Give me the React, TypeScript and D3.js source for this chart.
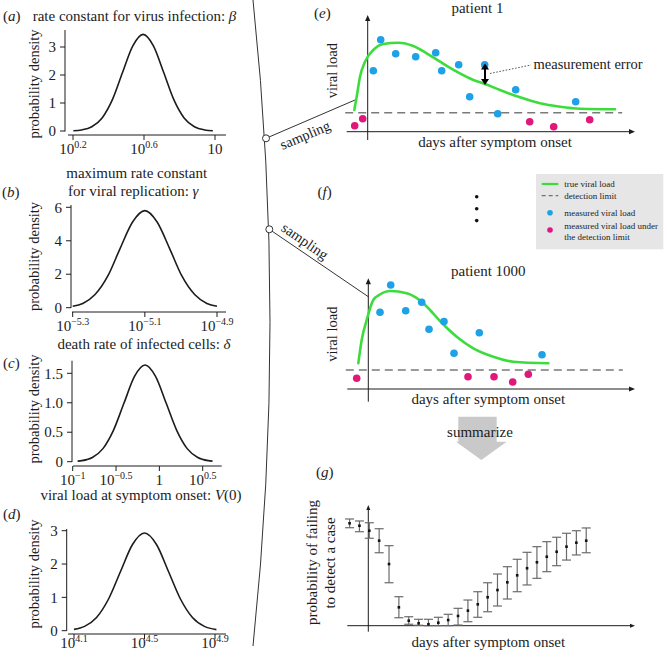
import React from "react";
import * as d3 from "d3";

const SERIF = "'Liberation Serif', 'Times New Roman', Times, serif";
const INK = "#1c1c1c";
const GREEN = "#3ddc3d";
const BLUE = "#1ea1e6";
const MAGENTA = "#e0187c";
const GREY_DASH = "#7a7a7a";

// ---------- (a) beta: density over log10(beta)
const betaLog10 = [0.202, 0.248, 0.306, 0.364, 0.422, 0.479, 0.537, 0.595, 0.653, 0.711, 0.768, 0.826, 0.884, 0.942, 0.988];
const betaDensity = [0.011, 0.038, 0.151, 0.467, 1.12, 2.09, 3.04, 3.45, 3.04, 2.09, 1.12, 0.467, 0.151, 0.038, 0.011];
// ---------- (b) gamma
const gammaLog10 = [-5.3, -5.272, -5.238, -5.203, -5.169, -5.134, -5.1, -5.066, -5.031, -4.997, -4.962, -4.928, -4.9];
const gammaDensity = [0.086, 0.255, 0.785, 1.88, 3.52, 5.12, 5.8, 5.12, 3.52, 1.88, 0.785, 0.255, 0.086];
// ---------- (c) delta
const deltaLog10 = [-0.943, -0.894, -0.773, -0.651, -0.53, -0.408, -0.287, -0.165, -0.044, 0.078, 0.2, 0.321, 0.443, 0.564, 0.613];
const deltaDensity = [0.01, 0.018, 0.072, 0.222, 0.532, 0.995, 1.447, 1.64, 1.447, 0.995, 0.532, 0.222, 0.072, 0.018, 0.01];
// ---------- (d) V(0)
const v0Log10 = [4.1, 4.16, 4.228, 4.296, 4.364, 4.432, 4.5, 4.568, 4.636, 4.704, 4.772, 4.84, 4.908];
const v0Density = [0.039, 0.129, 0.396, 0.951, 1.777, 2.586, 2.93, 2.586, 1.777, 0.951, 0.396, 0.129, 0.033];

type TickLabel = { value: number; base: string; exp: string };
const betaXTicks: TickLabel[] = [
  { value: 0.2, base: "10", exp: "0.2" },
  { value: 0.6, base: "10", exp: "0.6" },
  { value: 1, base: "10", exp: "" },
];
const gammaXTicks: TickLabel[] = [
  { value: -5.3, base: "10", exp: "−5.3" },
  { value: -5.1, base: "10", exp: "−5.1" },
  { value: -4.9, base: "10", exp: "−4.9" },
];
const deltaXTicks: TickLabel[] = [
  { value: -1, base: "10", exp: "−1" },
  { value: -0.5, base: "10", exp: "−0.5" },
  { value: 0, base: "1", exp: "" },
  { value: 0.5, base: "10", exp: "0.5" },
];
const v0XTicks: TickLabel[] = [
  { value: 4.1, base: "10", exp: "4.1" },
  { value: 4.5, base: "10", exp: "4.5" },
  { value: 4.9, base: "10", exp: "4.9" },
];
const betaYTicks = [0, 1, 2, 3];
const gammaYTicks = [0, 2, 4, 6];
const deltaYTicks = [0, 0.5, 1, 1.5];
const deltaYLabels = ["0", "0.5", "1.0", "1.5"];
const v0YTicks = [0, 1, 2, 3];

// ---------- (e) patient 1 (days after onset, viral load in arbitrary log units)
const p1TrueDays = [-1.34, -1.1, -0.77, -0.27, 0.56, 1.56, 3.06, 4.56, 5.9, 7.23, 8.9, 10.56, 11.73, 13.23, 15.23, 17.23, 19.23, 21.23, 24.73];
const p1TrueLoad = [2.17, 3.5, 5.5, 7.0, 8.17, 8.77, 8.9, 8.57, 7.84, 7.0, 6.0, 5.17, 4.77, 4.17, 3.44, 2.84, 2.5, 2.3, 2.24];
const p1MeasDays = [0.56, 1.3, 2.8, 4.8, 6.8, 7.4, 9.1, 10.2, 11.7, 13.0, 14.8, 20.8];
const p1MeasLoad = [6.1, 9.2, 7.8, 7.5, 7.9, 6.1, 6.7, 3.5, 6.7, 1.8, 4.2, 3.0];
const p1BelowDays = [-1.3, -0.5, 16.2, 18.6, 22.2];
const p1BelowLoad = [0.6, 1.3, 1.0, 0.5, 1.2];
// ---------- (f) patient 1000
const p1000TrueDays = [-1.0, -0.66, -0.16, 0.5, 1.17, 2.17, 3.84, 5.5, 6.17, 7.17, 8.84, 10.5, 12.5, 14.5, 18.0];
const p1000TrueLoad = [2.57, 4.9, 6.9, 8.9, 9.45, 9.8, 9.57, 8.57, 7.9, 6.8, 5.23, 4.07, 3.23, 2.73, 2.57];
const p1000MeasDays = [1.17, 2.24, 3.74, 5.34, 6.07, 7.57, 8.57, 11.1, 17.37];
const p1000MeasLoad = [7.67, 10.4, 7.83, 8.67, 5.97, 6.75, 3.57, 5.63, 3.43];
const p1000BelowDays = [-1.16, 9.97, 12.57, 14.44, 16.0];
const p1000BelowLoad = [1.07, 1.23, 1.23, 0.7, 1.47];
const detectionLimit = 1.9;
const detectionSpan = [-2.25, 25.45];

// ---------- (g) probability of failing to detect
const gDays = [-2, -1, 0, 1, 2, 3, 4, 5, 6, 7, 8, 9, 10, 11, 12, 13, 14, 15, 16, 17, 18, 19, 20, 21, 22];
const gProb = [0.925, 0.903, 0.858, 0.768, 0.557, 0.166, 0.045, 0.022, 0.013, 0.027, 0.051, 0.088, 0.136, 0.193, 0.257, 0.322, 0.392, 0.455, 0.519, 0.573, 0.623, 0.668, 0.714, 0.75, 0.768];
const gLower = [0.885, 0.849, 0.79, 0.659, 0.388, 0.072, 0.013, 0.004, 0.0, 0.0, 0.0, 0.006, 0.036, 0.076, 0.126, 0.178, 0.241, 0.307, 0.368, 0.428, 0.488, 0.542, 0.593, 0.639, 0.659];
const gUpper = [0.964, 0.946, 0.93, 0.876, 0.723, 0.262, 0.081, 0.058, 0.058, 0.076, 0.103, 0.157, 0.232, 0.307, 0.388, 0.467, 0.533, 0.6, 0.663, 0.714, 0.759, 0.799, 0.835, 0.858, 0.883];

type DLayout = {
  yAxisX: number; yAxisTop: number; yAxisBottom: number;
  xAxisY: number; xAxisLeft: number; xAxisRight: number;
  xDomain: [number, number]; xRange: [number, number];
  yDomain: [number, number]; yRange: [number, number];
  labelCy: number; tickLabelY: number;
};

function DensityPanel(props: { xs: number[]; ys: number[]; xTicks: TickLabel[]; yTicks: number[]; yLabels?: string[]; L: DLayout }) {
  const { xs, ys, xTicks, yTicks, yLabels, L } = props;
  const sx = d3.scaleLinear().domain(L.xDomain).range(L.xRange);
  const sy = d3.scaleLinear().domain(L.yDomain).range(L.yRange);
  const line = d3
    .line<number>()
    .x((v) => sx(v))
    .y((_, i) => sy(ys[i]))
    .curve(d3.curveMonotoneX);
  return (
    <g>
      <path d={line(xs) || ""} fill="none" stroke={INK} strokeWidth={1.6} />
      <line x1={L.yAxisX} x2={L.yAxisX} y1={L.yAxisTop} y2={L.yAxisBottom} stroke={INK} strokeWidth={1} />
      {yTicks.map((t, i) => (
        <g key={"y" + t}>
          <line x1={L.yAxisX - 5} x2={L.yAxisX} y1={sy(t)} y2={sy(t)} stroke={INK} />
          <text x={L.yAxisX - 9} y={sy(t)} dy="0.35em" textAnchor="end" fontSize={15}>
            {yLabels ? yLabels[i] : String(t)}
          </text>
        </g>
      ))}
      <line x1={L.xAxisLeft} x2={L.xAxisRight} y1={L.xAxisY} y2={L.xAxisY} stroke={INK} strokeWidth={1} />
      {xTicks.map((t) => (
        <g key={"x" + t.value}>
          <line x1={sx(t.value)} x2={sx(t.value)} y1={L.xAxisY} y2={L.xAxisY + 5} stroke={INK} />
          <text x={sx(t.value)} y={L.tickLabelY} textAnchor="middle" fontSize={15}>
            {t.base}
            {t.exp ? (
              <tspan dy={-6} fontSize={10}>
                {t.exp}
              </tspan>
            ) : null}
          </text>
        </g>
      ))}
      <text transform={`translate(39,${L.labelCy}) rotate(-90)`} textAnchor="middle" fontSize={14.5}>
        probability density
      </text>
    </g>
  );
}

function Head(props: { x: number; y: number; angle: number; len?: number; half?: number; fill?: string }) {
  const { x, y, angle, len = 6, half = 2.6, fill = INK } = props;
  return (
    <path
      d={`M0,0 L${-len},${-half} L${-len},${half} Z`}
      transform={`translate(${x},${y}) rotate(${angle})`}
      fill={fill}
    />
  );
}

type VLayout = {
  x0: number; pxPerDay: number; y0: number; pxPerUnit: number;
  xAxisLeft: number; xAxisRight: number; yAxisTop: number; yAxisBottom: number;
};

function ViralPanel(props: {
  trueDays: number[]; trueLoad: number[]; measDays: number[]; measLoad: number[];
  belowDays: number[]; belowLoad: number[]; L: VLayout;
}) {
  const { trueDays, trueLoad, measDays, measLoad, belowDays, belowLoad, L } = props;
  const sx = d3.scaleLinear().domain([0, 1]).range([L.x0, L.x0 + L.pxPerDay]);
  const sy = d3.scaleLinear().domain([0, 1]).range([L.y0, L.y0 - L.pxPerUnit]);
  const line = d3
    .line<number>()
    .x((v) => sx(v))
    .y((_, i) => sy(trueLoad[i]))
    .curve(d3.curveMonotoneX);
  return (
    <g>
      <line x1={L.xAxisLeft} x2={L.xAxisRight - 3} y1={L.y0} y2={L.y0} stroke={INK} strokeWidth={1} />
      <Head x={L.xAxisRight} y={L.y0} angle={0} />
      <line x1={L.x0} x2={L.x0} y1={L.yAxisBottom} y2={L.yAxisTop + 3} stroke={INK} strokeWidth={1} />
      <Head x={L.x0} y={L.yAxisTop} angle={-90} />
      <line
        x1={sx(detectionSpan[0])}
        x2={sx(detectionSpan[1])}
        y1={sy(detectionLimit)}
        y2={sy(detectionLimit)}
        stroke={GREY_DASH}
        strokeWidth={1.5}
        strokeDasharray="8,5"
      />
      <path d={line(trueDays) || ""} fill="none" stroke={GREEN} strokeWidth={2.6} strokeLinecap="round" />
      {measDays.map((d, i) => (
        <circle key={"m" + i} cx={sx(d)} cy={sy(measLoad[i])} r={3.8} fill={BLUE} />
      ))}
      {belowDays.map((d, i) => (
        <circle key={"b" + i} cx={sx(d)} cy={sy(belowLoad[i])} r={3.8} fill={MAGENTA} />
      ))}
    </g>
  );
}

function SummaryPanel() {
  const sx = d3.scaleLinear().domain([0, 1]).range([369.3, 379.16]);
  const sy = d3.scaleLinear().domain([0, 1]).range([625.7, 515]);
  return (
    <g>
      <line x1={347.3} x2={632} y1={625.7} y2={625.7} stroke={INK} strokeWidth={1} />
      <Head x={635} y={625.7} angle={0} len={5} half={2} />
      <line x1={368.3} x2={368.3} y1={631.7} y2={508} stroke={INK} strokeWidth={1} />
      <Head x={368.3} y={505} angle={-90} len={5} half={2} />
      {gDays.map((d, i) => {
        const x = sx(d);
        return (
          <g key={"g" + i}>
            <line x1={x} x2={x} y1={sy(gLower[i])} y2={sy(gUpper[i])} stroke="#6b6b6b" strokeWidth={1.2} />
            <line x1={x - 4.5} x2={x + 4.5} y1={sy(gLower[i])} y2={sy(gLower[i])} stroke="#6b6b6b" strokeWidth={1.2} />
            <line x1={x - 4.5} x2={x + 4.5} y1={sy(gUpper[i])} y2={sy(gUpper[i])} stroke="#6b6b6b" strokeWidth={1.2} />
            <rect x={x - 1.3} y={sy(gProb[i]) - 1.3} width={2.6} height={2.6} fill="#111" />
          </g>
        );
      })}
    </g>
  );
}

function PanelLetter(props: { x: number; y: number; letter: string }) {
  return (
    <text x={props.x} y={props.y} fontSize={15}>
      (<tspan fontStyle="italic">{props.letter}</tspan>)
    </text>
  );
}

export default function App() {
  const LA: DLayout = {
    yAxisX: 65, yAxisTop: 30, yAxisBottom: 131.5, xAxisY: 135, xAxisLeft: 68, xAxisRight: 226,
    xDomain: [0.2, 1], xRange: [73, 215], yDomain: [0, 3], yRange: [131, 47], labelCy: 84, tickLabelY: 154,
  };
  const LB: DLayout = {
    yAxisX: 71, yAxisTop: 205, yAxisBottom: 308, xAxisY: 312, xAxisLeft: 72, xAxisRight: 226,
    xDomain: [-5.3, -4.9], xRange: [72.7, 217], yDomain: [0, 6], yRange: [307.7, 207.3], labelCy: 256.5, tickLabelY: 331,
  };
  const LC: DLayout = {
    yAxisX: 72, yAxisTop: 360.7, yAxisBottom: 462, xAxisY: 466, xAxisLeft: 73, xAxisRight: 221.7,
    xDomain: [-1, 0.5], xRange: [72.7, 202.7], yDomain: [0, 1.5], yRange: [461.7, 373.3], labelCy: 409, tickLabelY: 485,
  };
  const LD: DLayout = {
    yAxisX: 66.7, yAxisTop: 529, yAxisBottom: 631, xAxisY: 634, xAxisLeft: 68, xAxisRight: 226,
    xDomain: [4.1, 4.9], xRange: [74, 215], yDomain: [0, 3], yRange: [630.7, 530.7], labelCy: 574, tickLabelY: 648,
  };
  const VE: VLayout = { x0: 367.7, pxPerDay: 10, y0: 131.7, pxPerUnit: 10, xAxisLeft: 346.7, xAxisRight: 635, yAxisTop: 15, yAxisBottom: 140 };
  const VF: VLayout = { x0: 368.3, pxPerDay: 10, y0: 389, pxPerUnit: 10, xAxisLeft: 347.3, xAxisRight: 635, yAxisTop: 278.3, yAxisBottom: 401.7 };

  return (
    <svg
      width={667}
      height={657}
      viewBox="0 0 667 657"
      style={{ position: "absolute", left: 0, top: 0, background: "#fff" }}
      fontFamily={SERIF}
      fill={INK}
    >
      <rect x={0} y={0} width={667} height={657} fill="#fff" />

      {/* connecting arc */}
      <path d="M253,0 Q287,322 253,646" fill="none" stroke="#333" strokeWidth={1} />
      <line x1={266} y1={138.3} x2={355} y2={100} stroke="#333" strokeWidth={1} />
      <line x1={269.3} y1={229.3} x2={368.3} y2={296.7} stroke="#333" strokeWidth={1} />
      <circle cx={266} cy={138.3} r={3.5} fill="#fff" stroke="#333" strokeWidth={1} />
      <circle cx={269.3} cy={229.3} r={3.5} fill="#fff" stroke="#333" strokeWidth={1} />
      <text transform="translate(305,135) rotate(-23)" textAnchor="middle" dy="0.35em" fontSize={14.5}>
        sampling
      </text>
      <text transform="translate(305,241) rotate(35)" textAnchor="middle" dy="0.35em" fontSize={14.5}>
        sampling
      </text>

      {/* left panels */}
      <PanelLetter x={3} y={21} letter="a" />
      <text x={134.5} y={21} textAnchor="middle" fontSize={15}>
        rate constant for virus infection: <tspan fontStyle="italic">β</tspan>
      </text>
      <DensityPanel xs={betaLog10} ys={betaDensity} xTicks={betaXTicks} yTicks={betaYTicks} L={LA} />

      <PanelLetter x={2} y={197} letter="b" />
      <text x={136.7} y={177.5} textAnchor="middle" fontSize={15}>
        maximum rate constant
      </text>
      <text x={133.3} y={196} textAnchor="middle" fontSize={15}>
        for viral replication: <tspan fontStyle="italic">γ</tspan>
      </text>
      <DensityPanel xs={gammaLog10} ys={gammaDensity} xTicks={gammaXTicks} yTicks={gammaYTicks} L={LB} />

      <PanelLetter x={3} y={368} letter="c" />
      <text x={144} y={348.5} textAnchor="middle" fontSize={15}>
        death rate of infected cells: <tspan fontStyle="italic">δ</tspan>
      </text>
      <DensityPanel xs={deltaLog10} ys={deltaDensity} xTicks={deltaXTicks} yTicks={deltaYTicks} yLabels={deltaYLabels} L={LC} />

      <PanelLetter x={3} y={519} letter="d" />
      <text x={141} y={500} textAnchor="middle" fontSize={15}>
        viral load at symptom onset: <tspan fontStyle="italic">V</tspan>(0)
      </text>
      <DensityPanel xs={v0Log10} ys={v0Density} xTicks={v0XTicks} yTicks={v0YTicks} L={LD} />

      {/* (e) patient 1 */}
      <PanelLetter x={314} y={18} letter="e" />
      <text x={477.5} y={12.5} textAnchor="middle" fontSize={15}>
        patient 1
      </text>
      <ViralPanel
        trueDays={p1TrueDays} trueLoad={p1TrueLoad} measDays={p1MeasDays} measLoad={p1MeasLoad}
        belowDays={p1BelowDays} belowLoad={p1BelowLoad} L={VE}
      />
      <text transform="translate(337,70.7) rotate(-90)" textAnchor="middle" fontSize={14.5}>
        viral load
      </text>
      <text x={495} y={147} textAnchor="middle" fontSize={15}>
        days after symptom onset
      </text>
      {/* measurement error */}
      <line x1={490} y1={73.5} x2={531} y2={65} stroke="#444" strokeWidth={0.9} strokeDasharray="1.6,1.6" />
      <line x1={485} x2={485} y1={68} y2={81} stroke="#000" strokeWidth={2} />
      <Head x={485} y={63.5} angle={-90} len={6} half={4} fill="#000" />
      <Head x={485} y={85} angle={90} len={6} half={4} fill="#000" />
      <text x={533.5} y={69} fontSize={14.5}>
        measurement error
      </text>

      {/* (f) */}
      <PanelLetter x={317.5} y={197} letter="f" />
      <circle cx={476.7} cy={196.7} r={1.8} fill="#111" />
      <circle cx={476.7} cy={208.8} r={1.8} fill="#111" />
      <circle cx={476.7} cy={220.6} r={1.8} fill="#111" />

      {/* legend */}
      <rect x={536} y={174} width={127.3} height={75.3} fill="#e6e6e6" />
      <line x1={541.7} x2={558.3} y1={184} y2={184} stroke={GREEN} strokeWidth={2.2} />
      <text x={564.3} y={187} fontSize={9}>
        true viral load
      </text>
      <line x1={541.7} x2={558.3} y1={195.7} y2={195.7} stroke="#555" strokeWidth={1} strokeDasharray="4,3" />
      <text x={564.3} y={198.7} fontSize={9}>
        detection limit
      </text>
      <circle cx={550} cy={212.7} r={2.8} fill={BLUE} />
      <text x={564.3} y={215.7} fontSize={9}>
        measured viral load
      </text>
      <circle cx={550} cy={230} r={2.8} fill={MAGENTA} />
      <text x={564.3} y={228.7} fontSize={9}>
        measured viral load under
      </text>
      <text x={564.3} y={239.7} fontSize={9}>
        the detection limit
      </text>

      <text x={488.3} y={275.5} textAnchor="middle" fontSize={15}>
        patient 1000
      </text>
      <ViralPanel
        trueDays={p1000TrueDays} trueLoad={p1000TrueLoad} measDays={p1000MeasDays} measLoad={p1000MeasLoad}
        belowDays={p1000BelowDays} belowLoad={p1000BelowLoad} L={VF}
      />
      <text transform="translate(337,334.2) rotate(-90)" textAnchor="middle" fontSize={14.5}>
        viral load
      </text>
      <text x={488.3} y={404} textAnchor="middle" fontSize={15}>
        days after symptom onset
      </text>

      {/* summarize arrow */}
      <path
        d="M458.3,416.7 L496.7,416.7 L496.7,441.7 L506.7,441.7 L481.3,460 L456,441.7 L458.3,441.7 Z"
        fill="#c9c9c9"
      />
      <text x={480} y={437} textAnchor="middle" fontSize={15}>
        summarize
      </text>

      {/* (g) */}
      <PanelLetter x={316} y={477} letter="g" />
      <SummaryPanel />
      <text transform="translate(317,562.5) rotate(-90)" textAnchor="middle" fontSize={15}>
        probability of failing
      </text>
      <text transform="translate(334.5,563) rotate(-90)" textAnchor="middle" fontSize={15}>
        to detect a case
      </text>
      <text x={488.3} y={647} textAnchor="middle" fontSize={15}>
        days after symptom onset
      </text>
    </svg>
  );
}
